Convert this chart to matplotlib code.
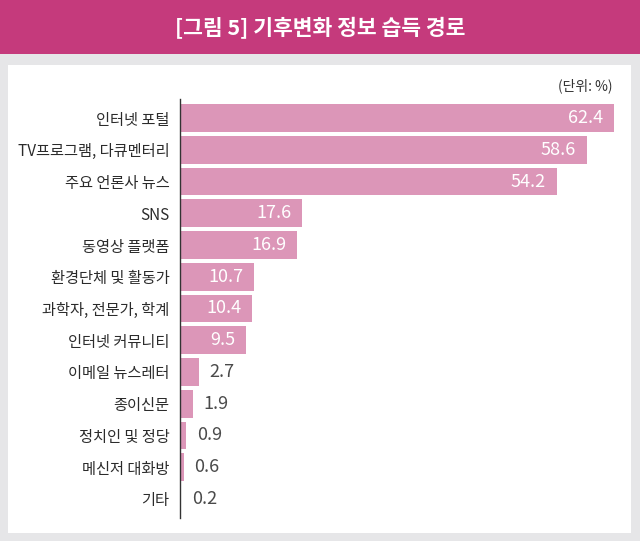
import matplotlib
matplotlib.use('Agg')
import matplotlib.pyplot as plt
from matplotlib.patches import Rectangle

plt.rcParams['font.family'] = ['Noto Sans CJK KR', 'DejaVu Sans']

# 데이터
categories = ['인터넷 포털', 'TV프로그램, 다큐멘터리', '주요 언론사 뉴스', 'SNS', '동영상 플랫폼',
              '환경단체 및 활동가', '과학자, 전문가, 학계', '인터넷 커뮤니티', '이메일 뉴스레터',
              '종이신문', '정치인 및 정당', '메신저 대화방', '기타']
values = [62.4, 58.6, 54.2, 17.6, 16.9, 10.7, 10.4, 9.5, 2.7, 1.9, 0.9, 0.6, 0.2]
title = '[그림 5] 기후변화 정보 습득 경로'
unit = '(단위: %)'

W, H = 640, 541
fig = plt.figure(figsize=(W / 100, H / 100), dpi=100)
fig.patch.set_facecolor('#e6e6e8')

def px(x0, y0, x1, y1):
    # 픽셀 좌표 -> figure 비율 (위에서부터)
    return [x0 / W, 1 - y1 / H, (x1 - x0) / W, (y1 - y0) / H]

# 헤더 띠
b = px(0, 0, W, 54)
fig.patches.append(Rectangle((b[0], b[1]), b[2], b[3], transform=fig.transFigure,
                             facecolor='#c53a7c', edgecolor='none', zorder=-1))
# 흰 패널
p = px(8, 65, 631, 533)
fig.patches.append(Rectangle((p[0], p[1]), p[2], p[3], transform=fig.transFigure,
                             facecolor='white', edgecolor='none', zorder=-1))

fig.text(320 / W, 1 - 28 / H, title, color='white', fontsize=15.5, fontweight='bold',
         ha='center', va='center')
fig.text(613 / W, 1 - 86 / H, unit, color='#333333', fontsize=10, ha='right', va='center')

ax = fig.add_axes(px(180, 99, 620, 518))
ax.set_zorder(2)
ax.set_facecolor('none')
y = list(range(len(categories)))
ax.barh(y, values, height=0.88, color='#dc96b8')
ax.set_xlim(0, 63.3)
ax.set_ylim(len(categories) - 0.4, -0.6)

ax.set_yticks(y)
ax.set_yticklabels(categories, fontsize=11, color='#2b2b2b')
ax.tick_params(axis='y', length=0, pad=7.5)
ax.set_xticks([])
for s in ['top', 'right', 'bottom']:
    ax.spines[s].set_visible(False)
ax.spines['left'].set_color('#333333')
ax.spines['left'].set_linewidth(1)

for i, v in enumerate(values):
    if v > 5:
        ax.annotate(f'{v}', (v, i), xytext=(-8, 0), textcoords='offset points',
                    ha='right', va='center', color='white', fontsize=13)
    else:
        ax.annotate(f'{v}', (v, i), xytext=(7.5, 0), textcoords='offset points',
                    ha='left', va='center', color='#4a4a4a', fontsize=13)

fig.savefig('out.png', dpi=100, facecolor=fig.get_facecolor())
